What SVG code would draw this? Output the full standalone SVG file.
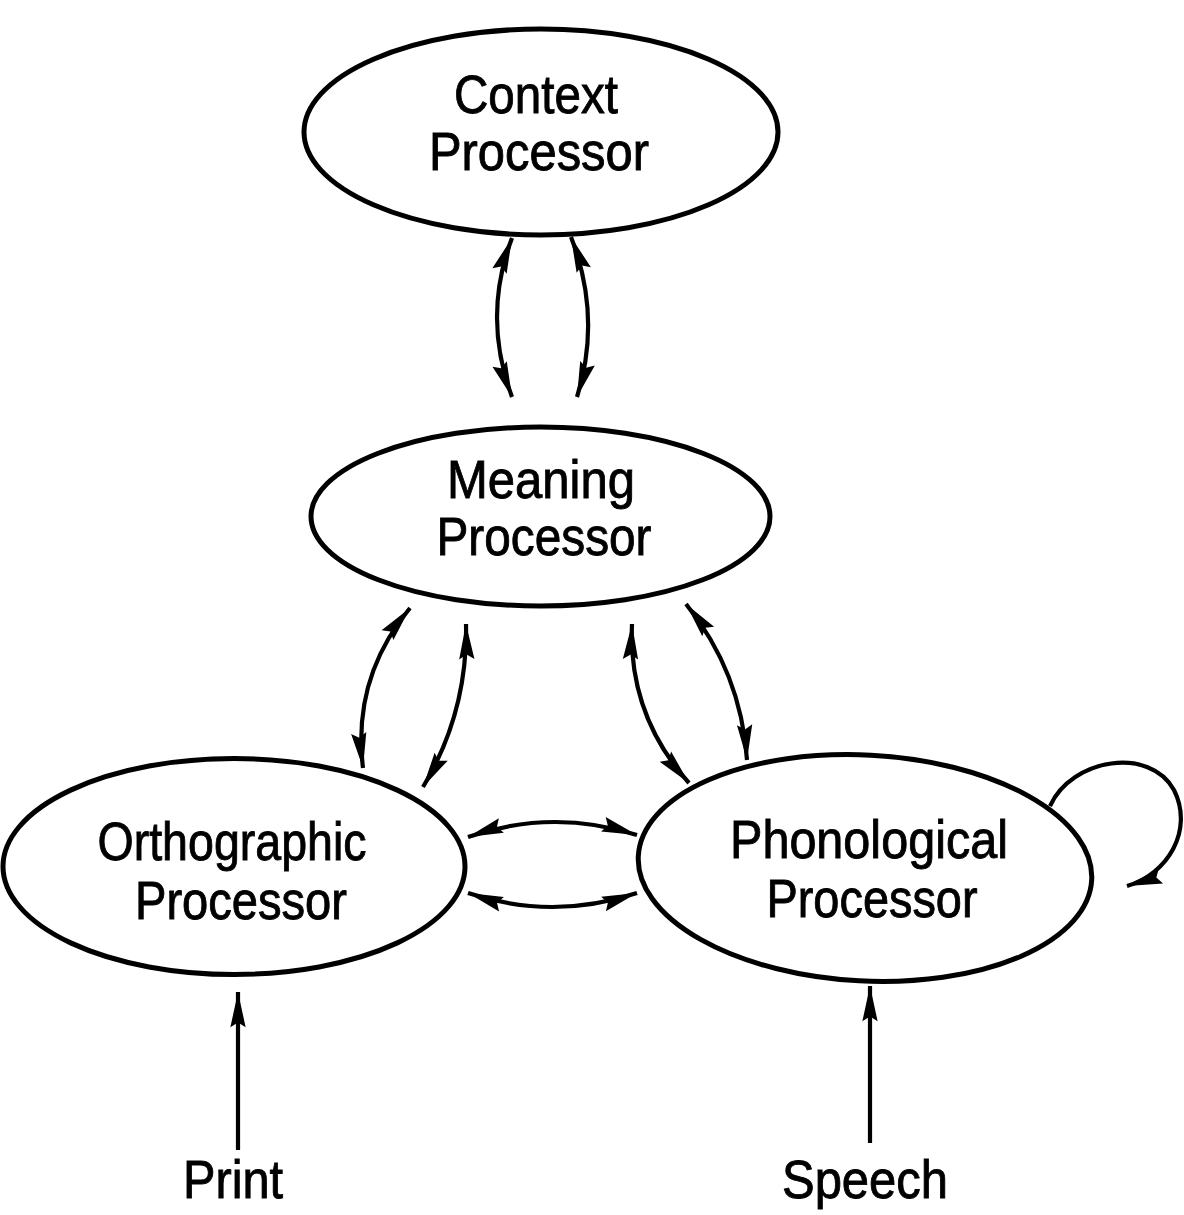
<svg xmlns="http://www.w3.org/2000/svg" width="1184" height="1215" viewBox="0 0 1184 1215">
<style>
.node{fill:none;stroke:#000;stroke-width:5}
.lbl{font-family:"Liberation Sans",Arial,sans-serif;font-size:53px;fill:#000;stroke:#000;stroke-width:0.9;text-anchor:middle}
.edge{fill:none;stroke:#000;stroke-width:4.2;marker-end:url(#ah)}
.bi{marker-start:url(#ah)}
</style>
<defs>
<marker id="ah" markerUnits="userSpaceOnUse" markerWidth="40" markerHeight="20" viewBox="-32 -8 34 16" refX="0" refY="0" orient="auto-start-reverse">
<path d="M0,0 L-30,-6.5 L-26,0 L-30,6.5 Z" fill="#000"/>
</marker>
</defs>
<rect width="1184" height="1215" fill="#fff"/>
<g id="context">
<ellipse class="node" cx="541" cy="132" rx="237" ry="103"/>
<text class="lbl" x="536" y="113" textLength="164" lengthAdjust="spacingAndGlyphs">Context</text>
<text class="lbl" x="539" y="170" textLength="220" lengthAdjust="spacingAndGlyphs">Processor</text>
</g>
<g id="meaning">
<ellipse class="node" cx="540.5" cy="516.5" rx="229.5" ry="89.5"/>
<text class="lbl" x="541" y="498" textLength="188" lengthAdjust="spacingAndGlyphs">Meaning</text>
<text class="lbl" x="544" y="555" textLength="215" lengthAdjust="spacingAndGlyphs">Processor</text>
</g>
<g id="orthographic">
<ellipse class="node" cx="234" cy="866.5" rx="231" ry="108"/>
<text class="lbl" x="232" y="860" textLength="269" lengthAdjust="spacingAndGlyphs">Orthographic</text>
<text class="lbl" x="241" y="919" textLength="212" lengthAdjust="spacingAndGlyphs">Processor</text>
</g>
<g id="phonological">
<ellipse class="node" cx="865" cy="868" rx="227" ry="113" transform="rotate(3 865 868)"/>
<text class="lbl" x="869" y="858" textLength="278" lengthAdjust="spacingAndGlyphs">Phonological</text>
<text class="lbl" x="872" y="917" textLength="211" lengthAdjust="spacingAndGlyphs">Processor</text>
</g>
<g id="print">
<text class="lbl" x="233" y="1198" textLength="100" lengthAdjust="spacingAndGlyphs">Print</text>
</g>
<g id="speech">
<text class="lbl" x="865" y="1198" textLength="166" lengthAdjust="spacingAndGlyphs">Speech</text>
</g>
<g id="connectors">
<path class="edge bi" d="M512,238 Q482,317 512,397"/>
<path class="edge bi" d="M571,237 Q602,317 577,397"/>
<path class="edge bi" d="M410,608 Q352,678 363,768"/>
<path class="edge bi" d="M466,624 Q468,712 423,787"/>
<path class="edge bi" d="M632,624 Q628,715 689,783"/>
<path class="edge bi" d="M686,604 Q741,672 747,760"/>
<path class="edge bi" d="M468,837 Q552,808 637,835"/>
<path class="edge bi" d="M468,893 Q552,921 637,893"/>
<path class="edge" d="M1050,806 C1072,758 1150,746 1174,790 C1194,830 1168,874 1127,886"/>
<path class="edge" d="M238,1150 L238,992"/>
<path class="edge" d="M870,1143 L870,986"/>
</g>
</svg>
